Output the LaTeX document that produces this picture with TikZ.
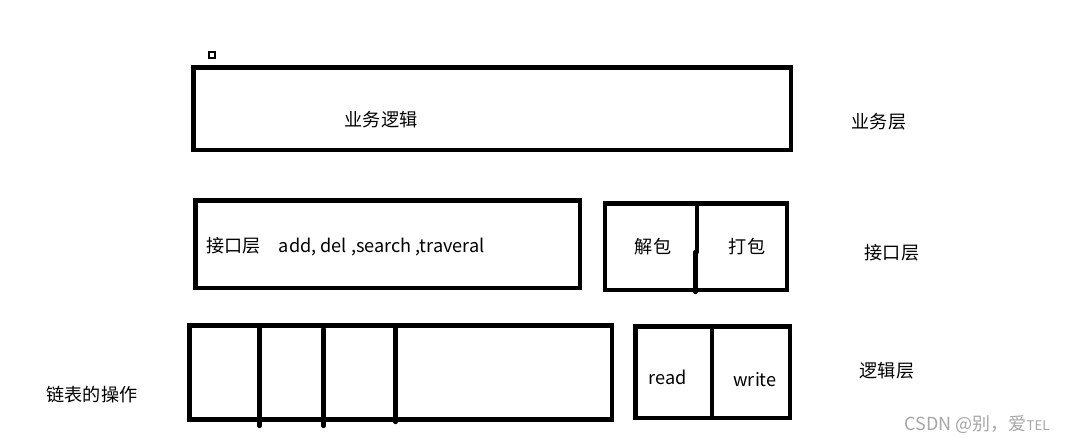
\documentclass[tikz,border=0pt]{standalone}
\usepackage{fontspec}
\setmainfont{Noto Sans CJK SC}
\begin{document}
\begin{tikzpicture}[x=0.75pt,y=-0.75pt,
  box/.style={line width=3.6pt},
  bar/.style={line width=3.3pt,line cap=round},
  lbl/.style={inner sep=0pt,font=\fontsize{13.6}{16}\selectfont}]
\useasboundingbox (0,0) rectangle (1069,445);

% business layer
\draw[line width=0.8pt] (209,52) rectangle (215,58);
\draw[box] (193.5,67.5) rectangle (791,150);
\node[lbl] (logic) at (381,120) {业务逻辑};

% interface layer
\draw[box] (195.5,200.5) rectangle (580,288);
\node[lbl,anchor=west] (api) at (206,247) {接口层\quad add, del ,search ,traveral};
\draw[box] (605,203.5) rectangle (787,290);
\draw[bar] (697,204) -- (697,252);
\draw[bar] (695.5,252) -- (695.5,292);
\node[lbl] (unpack) at (653,247) {解包};
\node[lbl] (pack) at (747,247) {打包};

% logic layer
\draw[box] (189.5,325.5) rectangle (612,419.5);
\draw[bar] (259.5,325.5) -- (259.5,426);
\draw[bar] (323.5,329) -- (323.5,426);
\draw[bar] (395.5,325.5) -- (395.5,422);
\draw[box] (635.5,326.3) rectangle (790,418);
\draw[box] (712,326.3) -- (712,418);
\node[lbl] (rd) at (668,377) {read};
\node[lbl] (wr) at (755,380) {write};

% layer names
\node[lbl] (bizname) at (879,122) {业务层};
\node[lbl] (apiname) at (892,253) {接口层};
\node[lbl] (logicname) at (887,371) {逻辑层};
\node[lbl] (listops) at (92,395) {链表的操作};

\node[inner sep=0pt,text=gray!70,font=\fontsize{13.5}{15}\selectfont] (mark) at (977,425) {CSDN @别，爱{\fontsize{10}{11}\selectfont TEL}};
\end{tikzpicture}
\end{document}
